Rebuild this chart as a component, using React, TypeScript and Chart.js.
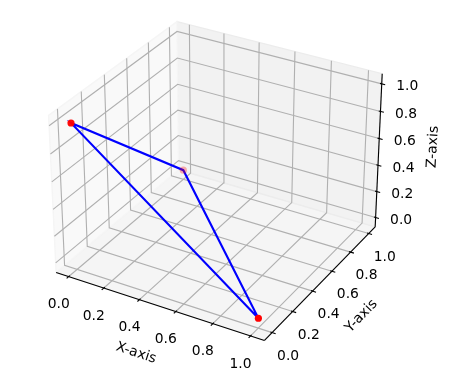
import React, { useEffect, useRef } from "react";
import { Chart, registerables } from "chart.js";

Chart.register(...registerables);

// Data: the triangle's vertices, in plotting order
const pointX = [1, 0, 0];
const pointY = [0, 1, 0];
const pointZ = [0, 0, 1];
const tickValues = [0, 0.2, 0.4, 0.6, 0.8, 1];
const tickLabels = ["0.0", "0.2", "0.4", "0.6", "0.8", "1.0"];
const axisLabels = ["X-axis", "Y-axis", "Z-axis"];
const limits = [-0.05, 1.05];

// Matplotlib's mplot3d view
const ELEV = (30 * Math.PI) / 180;
const AZIM = (-60 * Math.PI) / 180;
const DIST = 10;
const ASPECT = [8 / 7, 8 / 7, 6 / 7];
const SCALE = 2005;
const CX = 218.6;
const CY = 173.4;

const span = limits[1] - limits[0];
const delta = span / 12;
const LO = limits[0] - delta / 4;
const HI = limits[1] + delta / 4;

const w = [Math.cos(ELEV) * Math.cos(AZIM), Math.cos(ELEV) * Math.sin(AZIM), Math.sin(ELEV)];
const uNorm = Math.hypot(w[1], w[0]);
const u = [-w[1] / uNorm, w[0] / uNorm, 0];
const v = [
  w[1] * u[2] - w[2] * u[1],
  w[2] * u[0] - w[0] * u[2],
  w[0] * u[1] - w[1] * u[0],
];

const dot = (a: number[], b: number[]) => a[0] * b[0] + a[1] * b[1] + a[2] * b[2];
const rel = (x: number, y: number, z: number) => [
  ((x - 0.5) / span) * ASPECT[0],
  ((y - 0.5) / span) * ASPECT[1],
  ((z - 0.5) / span) * ASPECT[2],
];
const depth = (x: number, y: number, z: number) => dot(w, rel(x, y, z));
const project = (x: number, y: number, z: number) => {
  const p = rel(x, y, z);
  const d = DIST - dot(w, p);
  return { x: CX + (SCALE * dot(u, p)) / d, y: CY - (SCALE * dot(v, p)) / d };
};

const path = (pts: number[][]) => pts.map((p) => project(p[0], p[1], p[2]));

const line = (pts: number[][], color: string, width: number, order: number) => ({
  data: path(pts),
  showLine: true,
  borderColor: color,
  borderWidth: width,
  pointRadius: 0,
  tension: 0,
  fill: false,
  clip: false,
  order,
});

const pane = (pts: number[][], color: string, edge: string) => ({
  data: path([...pts, pts[0]]),
  showLine: true,
  borderColor: edge,
  borderWidth: 1.39,
  backgroundColor: color,
  pointRadius: 0,
  tension: 0,
  fill: "shape",
  clip: false,
  order: 10,
});

function buildDatasets() {
  const sets: any[] = [];
  sets.push(pane([[LO, LO, LO], [LO, HI, LO], [LO, HI, HI], [LO, LO, HI]], "#F9F9F9", "#F5F5F5"));
  sets.push(pane([[LO, HI, LO], [HI, HI, LO], [HI, HI, HI], [LO, HI, HI]], "#F2F2F2", "#ECECEC"));
  sets.push(pane([[LO, LO, LO], [HI, LO, LO], [HI, HI, LO], [LO, HI, LO]], "#F5F5F5", "#F1F1F1"));

  for (const t of tickValues) {
    sets.push(line([[t, LO, LO], [t, HI, LO], [t, HI, HI]], "#B0B0B0", 1.11, 9));
    sets.push(line([[HI, t, LO], [LO, t, LO], [LO, t, HI]], "#B0B0B0", 1.11, 9));
    sets.push(line([[HI, HI, t], [LO, HI, t], [LO, LO, t]], "#B0B0B0", 1.11, 9));
    const outer = 0.2 * delta;
    const inner = 0.1 * delta;
    sets.push(line([[t, LO + inner, LO], [t, LO - outer, LO]], "#000000", 1.11, 8));
    sets.push(line([[HI - inner, t, LO], [HI + outer, t, LO]], "#000000", 1.11, 8));
    sets.push(line([[HI - inner, HI, t], [HI + outer, HI, t]], "#000000", 1.11, 8));
  }
  sets.push(line([[LO, LO, LO], [HI, LO, LO]], "#000000", 1.11, 7));
  sets.push(line([[HI, LO, LO], [HI, HI, LO]], "#000000", 1.11, 7));
  sets.push(line([[HI, HI, LO], [HI, HI, HI]], "#000000", 1.11, 7));

  const verts = pointX.map((x, i) => [x, pointY[i], pointZ[i]]);
  sets.push(line([...verts, verts[0]], "#0000FF", 2.08, 3));

  const depths = verts.map((p) => depth(p[0], p[1], p[2]));
  const dMin = Math.min(...depths);
  const dMax = Math.max(...depths);
  const colors = depths.map((d) => {
    const a = 0.3 + (0.7 * (d - dMin)) / (dMax - dMin);
    return `rgba(255,0,0,${a.toFixed(3)})`;
  });
  sets.push({
    data: path(verts),
    showLine: false,
    pointRadius: 3.6,
    pointBorderWidth: 0,
    pointBackgroundColor: colors,
    clip: false,
    order: 2,
  });
  return sets;
}

const FONT = '13.89px "DejaVu Sans"';

const textPlugin = {
  id: "axisText",
  afterDraw(chart: any) {
    const { ctx, scales } = chart;
    const put = (p: { x: number; y: number }, dx: number, dy: number, text: string, rot = 0) => {
      ctx.save();
      ctx.translate(scales.x.getPixelForValue(p.x) + dx, scales.y.getPixelForValue(p.y) + dy);
      ctx.rotate((rot * Math.PI) / 180);
      ctx.font = FONT;
      ctx.fillStyle = "#000000";
      ctx.textAlign = "center";
      ctx.textBaseline = "middle";
      ctx.fillText(text, 0, 0);
      ctx.restore();
    };
    tickValues.forEach((t, i) => {
      put(project(t, LO, LO), -10, 28, tickLabels[i]);
      put(project(HI, t, LO), 16, 23.5, tickLabels[i]);
      put(project(HI, HI, t), 25.5, 3, tickLabels[i]);
    });
    put(project(0.5, LO, LO), -21.5, 47.5, axisLabels[0], 18);
    put(project(HI, 0.5, LO), 39, 35, axisLabels[1], -46);
    put(project(HI, HI, 0.5), 54.5, -5, axisLabels[2], -87);
  },
};

export default function App() {
  const ref = useRef<HTMLCanvasElement>(null);
  useEffect(() => {
    document.body.style.margin = "0";
    const chart = new Chart(ref.current as HTMLCanvasElement, {
      type: "scatter",
      data: { datasets: buildDatasets() },
      options: {
        animation: false,
        responsive: false,
        layout: { padding: 0, autoPadding: false },
        plugins: { legend: { display: false }, tooltip: { enabled: false } },
        events: [],
        scales: {
          x: { type: "linear", display: false, min: 0, max: 463 },
          y: { type: "linear", display: false, min: 0, max: 385, reverse: true },
        },
      },
      plugins: [textPlugin],
    } as any);
    return () => chart.destroy();
  }, []);
  return (
    <div style={{ width: 463, height: 385, background: "#fff" }}>
      <canvas ref={ref} width={463} height={385} style={{ display: "block" }} />
    </div>
  );
}
